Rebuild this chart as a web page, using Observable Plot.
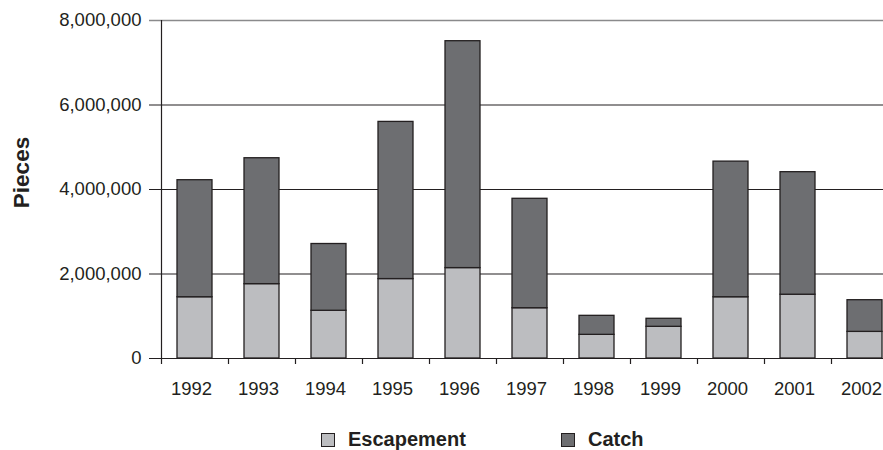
<!DOCTYPE html>
<html>
<head>
<meta charset="utf-8">
<script src="https://cdn.jsdelivr.net/npm/d3@7"></script>
<script src="https://cdn.jsdelivr.net/npm/@observablehq/plot@0.6"></script>
<style>
  html, body { margin: 0; padding: 0; background: #fff; }
  body { width: 883px; height: 450px; position: relative; overflow: hidden;
         font-family: "Liberation Sans", Arial, sans-serif; color: #231f20; }
  #chart { position: absolute; left: 0; top: 0; }
  #legend { position: absolute; left: 0; top: 426px; width: 883px; height: 26px; }
  .item { position: absolute; top: 0; display: flex; align-items: center; height: 26px;
          font-weight: bold; font-size: 20px; }
  .sw { width: 12px; height: 12px; border: 1.5px solid #231f20; margin-right: 13px; margin-top: 2px; }
</style>
</head>
<body>
<div id="chart"></div>
<div id="legend"></div>
<script>
const years = [1992, 1993, 1994, 1995, 1996, 1997, 1998, 1999, 2000, 2001, 2002];
const escapement = [1450000, 1760000, 1130000, 1880000, 2140000, 1190000, 560000, 750000, 1450000, 1510000, 630000];
const catchVals  = [2770000, 2980000, 1580000, 3720000, 5370000, 2590000, 450000, 190000, 3210000, 2900000, 750000];
const series = ["Escapement", "Catch"];
const seriesColors = ["#bcbdc0", "#6d6e71"];
const yTicks = [0, 2000000, 4000000, 6000000, 8000000];
const yLabel = "Pieces";

const data = [];
years.forEach((yr, i) => {
  data.push({year: yr, series: series[0], value: escapement[i]});
  data.push({year: yr, series: series[1], value: catchVals[i]});
});

const ink = "#231f20";
const plot = Plot.plot({
  width: 883,
  height: 410,
  marginLeft: 161,
  marginRight: 0,
  marginTop: 20,
  marginBottom: 52,
  style: {fontFamily: '"Liberation Sans", Arial, sans-serif', color: ink, background: "#fff", overflow: "visible"},
  x: {domain: years, range: [161, 898], paddingInner: 0.48, paddingOuter: 0.24, axis: null},
  y: {domain: [0, 8000000], axis: null},
  color: {domain: series, range: seriesColors},
  marks: [
    Plot.ruleY(yTicks.slice(0, -1), {stroke: ink, strokeWidth: 1.2, insetLeft: -12}),
    Plot.ruleY(yTicks.slice(-1), {stroke: "#8a8a8c", strokeWidth: 1.6, insetLeft: -12}),
    Plot.barY(data, {x: "year", y: "value", fill: "series", stroke: ink, strokeWidth: 1.3}),
    Plot.frame({anchor: "left", stroke: ink, strokeWidth: 1.2}),
    Plot.axisY({ticks: yTicks, tickSize: 0, tickPadding: 20, tickFormat: d3.format(","), fontSize: 18.5, label: null}),
    Plot.axisX({tickSize: 6, tickFormat: () => "", dx: -33.5, stroke: ink, strokeWidth: 1.2, label: null}),
    Plot.axisX({tickSize: 0, tickPadding: 23, dx: -3.5, tickFormat: d => String(d), fontSize: 18.5, label: null}),
    Plot.text([yLabel], {frameAnchor: "left", dx: -140, dy: -17, rotate: -90, textAnchor: "middle", fontSize: 22.5, fontWeight: "bold", fill: ink})
  ]
});
document.getElementById("chart").appendChild(plot);

const legend = document.getElementById("legend");
const lefts = [321, 561];
series.forEach((s, i) => {
  const it = document.createElement("div");
  it.className = "item";
  it.style.left = lefts[i] + "px";
  const sw = document.createElement("div");
  sw.className = "sw";
  sw.style.background = seriesColors[i];
  const t = document.createElement("span");
  t.textContent = s;
  it.appendChild(sw);
  it.appendChild(t);
  legend.appendChild(it);
});
</script>
</body>
</html>
